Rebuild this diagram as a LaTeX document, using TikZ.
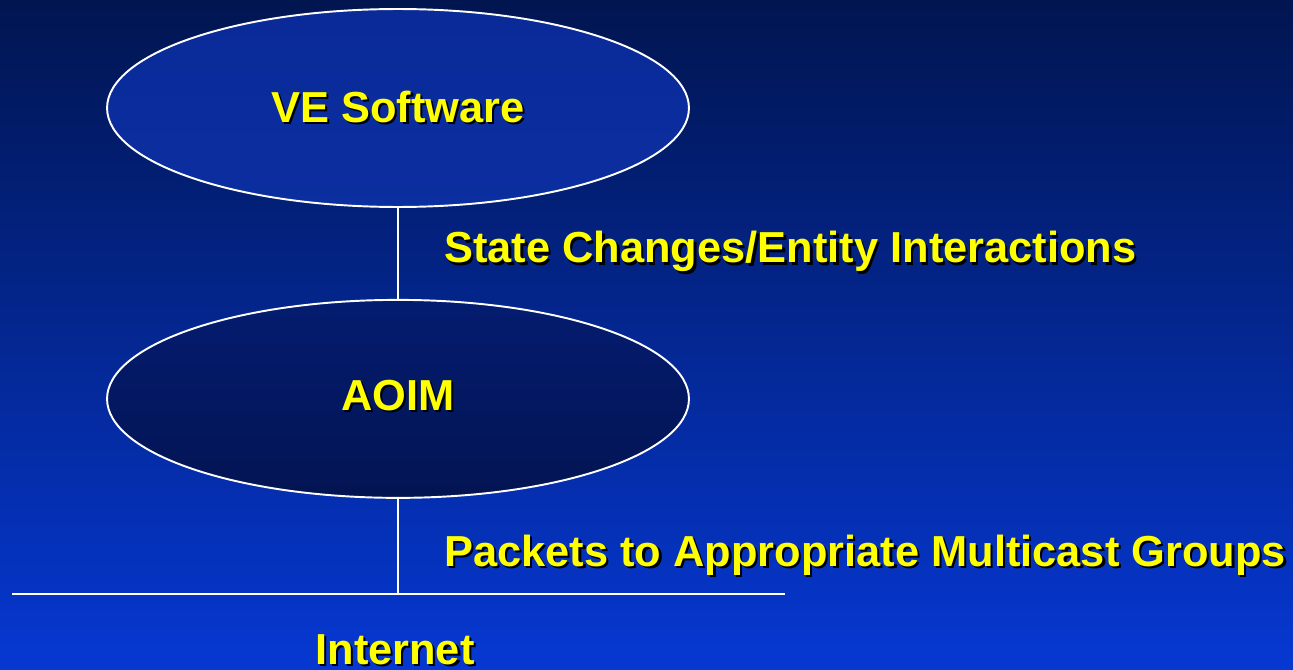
\documentclass[tikz,border=0pt]{standalone}
\usepackage{fontspec}
\setmainfont{Liberation Sans}
\usepackage{xcolor}
\usetikzlibrary{positioning, shapes.geometric}

\definecolor{bgtop}{HTML}{011550}
\definecolor{bgbot}{HTML}{0638D2}
\definecolor{vetop}{HTML}{0A2A98}
\definecolor{vebot}{HTML}{0B2EA0}
\definecolor{aoimtop}{HTML}{041C70}
\definecolor{aoimbot}{HTML}{031452}
\definecolor{txtyellow}{HTML}{FFFF00}

% yellow text with a black drop shadow
\newcommand{\shadowed}[1]{\makebox[0pt][l]{\hspace{1.3pt}\raisebox{-1.3pt}{\color{black}#1}}{\color{txtyellow}#1}}

\begin{document}
\begin{tikzpicture}[
        x=0.02cm, y=-0.02cm,
        every node/.style={font=\fontsize{24.7}{29}\selectfont\bfseries},
        blob/.style={draw=white, line width=1.1pt, ellipse, minimum width=11.64cm, minimum height=3.96cm, inner sep=0pt},
        wire/.style={draw=white, line width=1.1pt},
        txt/.style={inner sep=0pt}
    ]

    \useasboundingbox (0,0) rectangle (1293,669);
    \shade[top color=bgtop, bottom color=bgbot] (0,0) rectangle (1293,669);

    \node[blob, top color=vetop, bottom color=vebot] (ve) at (398,108) {};
    \node[blob, top color=aoimtop, bottom color=aoimbot, below=1.82cm of ve] (aoim) {};

    \node[txt] (vetext) at (ve.center) {\shadowed{VE Software}};
    \node[txt] (aoimtext) at ([yshift=0.04cm]aoim.center) {\shadowed{AOIM}};

    \coordinate (tap) at (398,594);
    \coordinate (netL) at (12,594);
    \coordinate (netR) at (785,594);

    \draw[wire] (ve.south) -- (aoim.north);
    \draw[wire] (aoim.south) -- (tap);
    \draw[wire] (netL) -- (netR);

    \node[txt, anchor=west] (state) at (444,253) {\shadowed{State Changes/Entity Interactions}};
    \node[txt, anchor=west] (packets) at (444,556) {\shadowed{Packets to Appropriate Multicast Groups}};
    \node[txt] (internet) at (395,651) {\shadowed{Internet}};

\end{tikzpicture}
\end{document}
